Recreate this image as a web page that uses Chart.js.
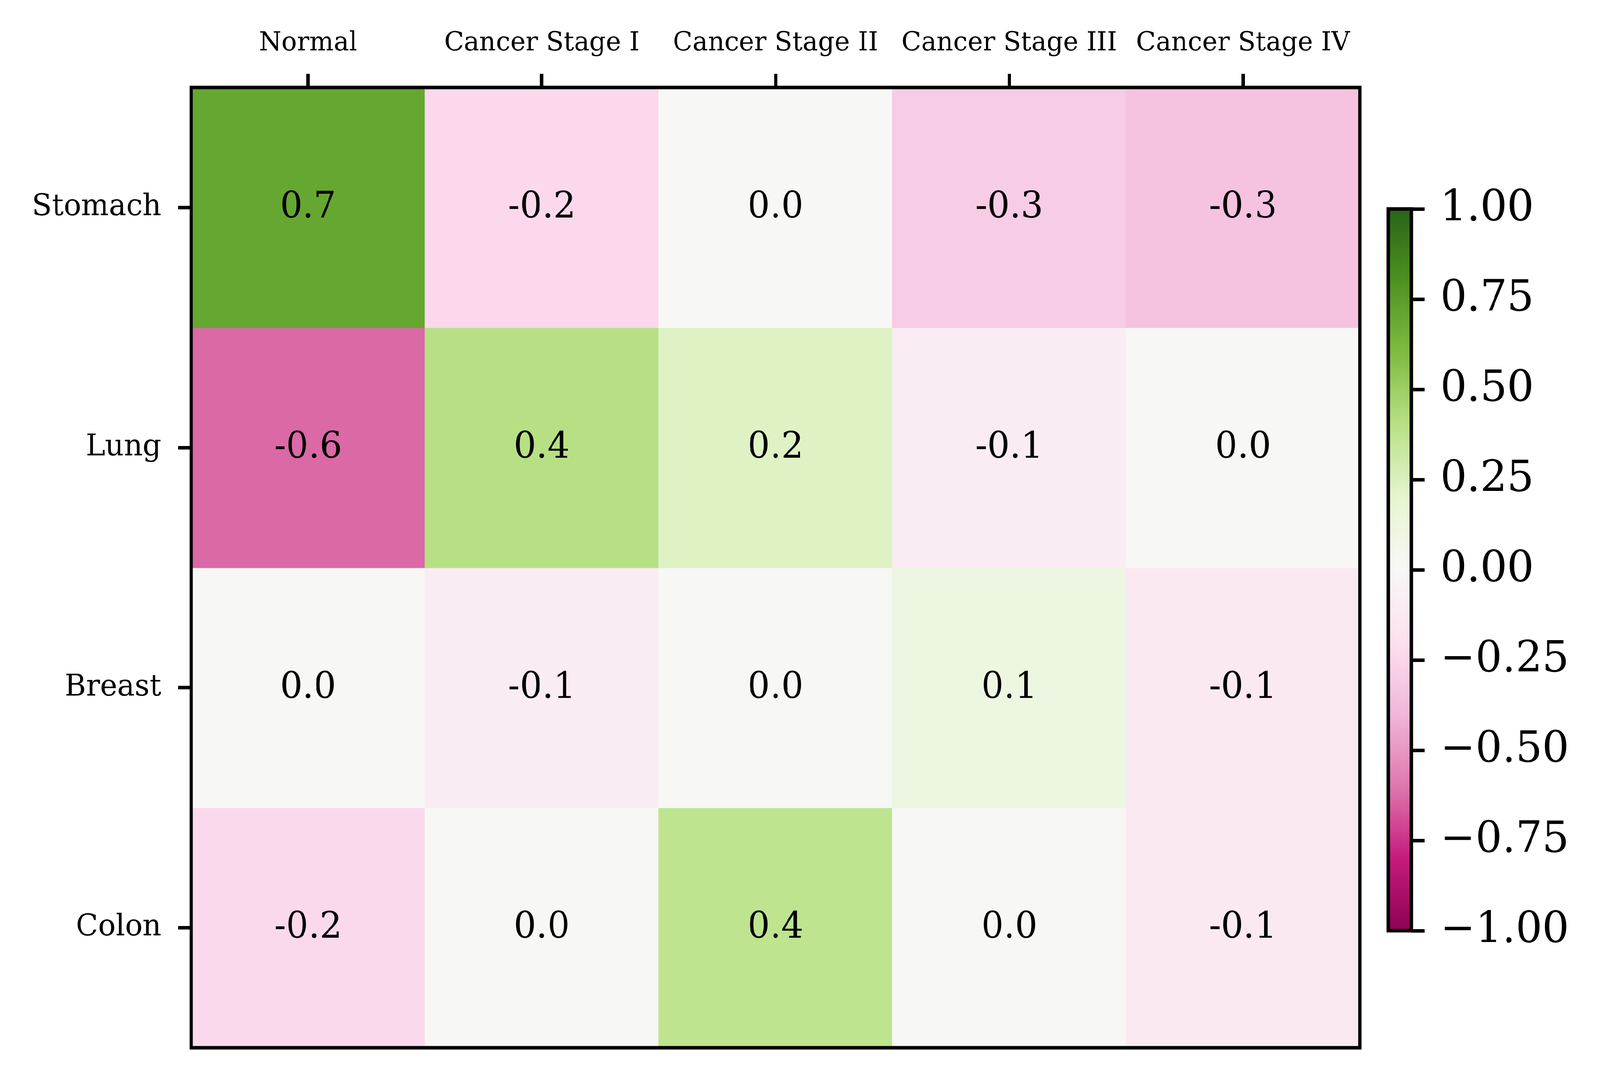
<!DOCTYPE html>
<html><head><meta charset="utf-8">
<script src="https://cdn.jsdelivr.net/npm/chart.js@4.4.1/dist/chart.umd.min.js"></script>
<style>
html,body{margin:0;padding:0;background:#fff;overflow:hidden;}
#wrap{position:relative;width:4225px;height:2773px;background:#fff;transform-origin:0 0;}
#main{position:absolute;left:0;top:0;}
#cb{position:absolute;left:3600px;top:0;}
</style></head><body>
<div id="wrap"><canvas id="main" width="3640" height="2773"></canvas><canvas id="cb" width="625" height="2773"></canvas></div>
<script>
// ---------- data ----------
const columns = ['Normal', 'Cancer Stage I', 'Cancer Stage II', 'Cancer Stage III', 'Cancer Stage IV'];
const rows = ['Stomach', 'Lung', 'Breast', 'Colon'];
const stomach = [0.70, -0.24, 0.00, -0.29, -0.34];
const lung    = [-0.63, 0.40, 0.23, -0.10, 0.00];
const breast  = [0.00, -0.10, 0.00, 0.11, -0.12];
const colon   = [-0.23, 0.00, 0.37, 0.00, -0.12];
const colorbarTicks = [-1.00, -0.75, -0.50, -0.25, 0.00, 0.25, 0.50, 0.75, 1.00];
const vmin = -1, vmax = 1;

const matrix = [stomach, lung, breast, colon];

// fit the 4225x2773 design into the actual viewport
const vw = window.innerWidth || 4225, vh = window.innerHeight || 2773;
const Sx = vw / 4225, Sy = vh / 2773;
document.getElementById('wrap').style.transform = 'scale(' + Sx + ',' + Sy + ')';
const DPR = (window.devicePixelRatio || 1) * Math.max(Sx, Sy);

// PiYG colormap anchors (ColorBrewer, 11 classes), quantised to 256 levels
const piyg = [[142,1,82],[197,27,125],[222,119,174],[241,182,218],[253,224,239],[247,247,247],
              [230,245,208],[184,225,134],[127,188,65],[77,146,33],[39,100,25]];
function cmapT(t){
  t = Math.max(0, Math.min(1, t));
  const p = t * (piyg.length - 1);
  const i = Math.min(Math.floor(p), piyg.length - 2);
  const f = p - i;
  const c = piyg[i].map((a, k) => Math.round(a + (piyg[i+1][k] - a) * f));
  return `rgb(${c[0]},${c[1]},${c[2]})`;
}
function cmap(v){
  let t = (v - vmin) / (vmax - vmin);
  let idx = Math.min(255, Math.max(0, Math.floor(t * 256)));
  return cmapT(idx / 255);
}

const FONT = '"DejaVu Serif", "Liberation Serif", serif';
Chart.defaults.color = '#000';
Chart.defaults.font.family = FONT;

const frame = {
  id: 'frame',
  afterDraw(chart){
    const a = chart.chartArea, ctx = chart.ctx;
    ctx.save();
    ctx.strokeStyle = '#000';
    ctx.lineWidth = 9;
    ctx.strokeRect(a.left, a.top, a.right - a.left, a.bottom - a.top);
    ctx.restore();
  }
};

const annotate = {
  id: 'annotate',
  afterDatasetsDraw(chart){
    const ctx = chart.ctx, xs = chart.scales.x, ys = chart.scales.y;
    ctx.save();
    ctx.fillStyle = '#000';
    ctx.font = '93px ' + FONT;
    ctx.textAlign = 'center';
    ctx.textBaseline = 'alphabetic';
    matrix.forEach((vals, i) => {
      vals.forEach((v, j) => {
        ctx.fillText(v.toFixed(1), xs.getPixelForValue(j), ys.getPixelForValue(i) + 26);
      });
    });
    ctx.restore();
  }
};

new Chart(document.getElementById('main'), {
  type: 'bar',
  data: {
    labels: columns,
    datasets: matrix.map((vals, i) => ({
      label: rows[i],
      data: vals.map(() => [i - 0.5, i + 0.5]),
      backgroundColor: vals.map(cmap),
      borderWidth: 0,
      grouped: false,
      barPercentage: 1,
      categoryPercentage: 1,
      inflateAmount: 1
    }))
  },
  options: {
    responsive: false,
    animation: false,
    devicePixelRatio: DPR,
    layout: { padding: { left: 0, top: 0, right: 49, bottom: 80 } },
    plugins: { legend: { display: false }, tooltip: { enabled: false } },
    scales: {
      x: {
        type: 'category',
        position: 'top',
        offset: true,
        border: { display: false },
        grid: { offset: false, drawOnChartArea: false, tickLength: 35, tickWidth: 9, tickColor: '#000' },
        ticks: { font: { size: 68, family: FONT }, padding: 37, maxRotation: 0, autoSkip: false, color: '#000' },
        afterFit: s => { s.height = 224; }
      },
      y: {
        type: 'linear',
        reverse: true,
        min: -0.5,
        max: 3.5,
        border: { display: false },
        grid: { drawOnChartArea: false, tickLength: 35, tickWidth: 9, tickColor: '#000' },
        afterBuildTicks: s => { s.ticks = rows.map((_, i) => ({ value: i })); },
        ticks: { font: { size: 77, family: FONT }, padding: 44, color: '#000',
                 callback: v => rows[v] },
        afterFit: s => { s.width = 505; }
      }
    }
  },
  plugins: [annotate, frame]
});

// ---------- colorbar ----------
new Chart(document.getElementById('cb'), {
  type: 'bar',
  data: {
    labels: ['cb'],
    datasets: [{
      data: [[vmin, vmax]],
      borderWidth: 0,
      barPercentage: 1,
      categoryPercentage: 1,
      backgroundColor: (c) => {
        const chart = c.chart;
        if (!chart.chartArea) return '#fff';
        const ys = chart.scales.y;
        const y0 = ys.getPixelForValue(vmin), y1 = ys.getPixelForValue(vmax);
        const g = chart.ctx.createLinearGradient(0, y0, 0, y1);
        for (let k = 0; k <= 40; k++) {
          g.addColorStop(k / 40, cmapT(k / 40));
        }
        return g;
      }
    }]
  },
  options: {
    responsive: false,
    animation: false,
    devicePixelRatio: DPR,
    layout: { padding: { left: 66, top: 535, right: 0, bottom: 390 } },
    plugins: { legend: { display: false }, tooltip: { enabled: false } },
    scales: {
      x: { display: false, offset: true },
      y: {
        type: 'linear',
        position: 'right',
        min: vmin,
        max: vmax,
        border: { display: false },
        grid: { drawOnChartArea: false, tickLength: 35, tickWidth: 9, tickColor: '#000' },
        afterBuildTicks: s => { s.ticks = colorbarTicks.map(v => ({ value: v })); },
        ticks: { font: { size: 111, family: FONT }, padding: 41, color: '#000',
                 callback: v => (v < 0 ? '\u2212' : '') + Math.abs(v).toFixed(2) },
        afterFit: s => { s.width = 498; }
      }
    }
  },
  plugins: [frame]
});
</script>
</body></html>
